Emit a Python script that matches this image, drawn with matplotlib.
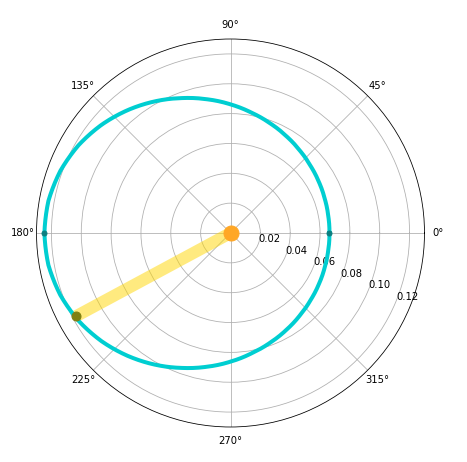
import matplotlib
matplotlib.use("Agg")
import matplotlib.pyplot as plt
import numpy as np

# curve, every 10 degrees (r in data units)
theta_deg = [0, 10, 20, 30, 40, 50, 60, 70, 80, 90, 100, 110, 120, 130, 140, 150, 160, 170, 180,
             190, 200, 210, 220, 230, 240, 250, 260, 270, 280, 290, 300, 310, 320, 330, 340, 350, 360]
r_curve = [0.0663, 0.0665, 0.0672, 0.0684, 0.0700, 0.0722, 0.0749, 0.0781, 0.0818, 0.0862,
           0.0910, 0.0962, 0.1018, 0.1074, 0.1128, 0.1176, 0.1214, 0.1239, 0.1247,
           0.1239, 0.1214, 0.1176, 0.1128, 0.1074, 0.1018, 0.0962, 0.0910, 0.0862,
           0.0818, 0.0781, 0.0749, 0.0722, 0.0700, 0.0684, 0.0672, 0.0665, 0.0663]

# end points on the curve
dot_theta = [0, 180]
dot_r = [0.0663, 0.1247]

# vector from the origin
vec_theta = [0, 208.3]
vec_r = [0, 0.1178]

r_ticks = [0.02, 0.04, 0.06, 0.08, 0.10, 0.12]
r_max = 0.13

fig = plt.figure(figsize=(467 / 72, 462 / 72), dpi=72)
ax = fig.add_axes([36.5 / 467, 35 / 462, 388 / 467, 388 / 462], projection='polar')

ax.plot(np.radians(vec_theta), vec_r, color='gold', alpha=0.5, lw=12, solid_capstyle='butt', zorder=2)
curve, = ax.plot(np.radians(theta_deg), r_curve, color='darkturquoise', lw=4, zorder=3)
# let the polar transform draw arcs between readings instead of chords
curve.get_path()._interpolation_steps = 40
ax.plot(np.radians(dot_theta), dot_r, 'o', color='#0d7f80', ms=5, zorder=4)
ax.plot(np.radians(vec_theta[1:]), vec_r[1:], 'o', color='#7f7f12', ms=9, zorder=5)
ax.plot(np.radians(vec_theta[:1]), vec_r[:1], 'o', color='#ffa726', ms=15, zorder=5)

ax.set_rmax(r_max)
ax.set_rticks(r_ticks)
ax.set_yticklabels(['0.02', '0.04', '0.06', '0.08', '0.10', '0.12'])
ax.set_rlabel_position(-22.5)
ax.grid(True)

fig.savefig('out.png', dpi=72)
